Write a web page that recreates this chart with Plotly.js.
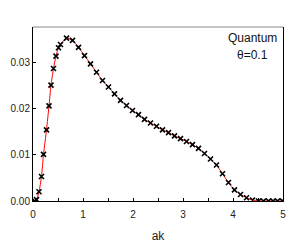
<!DOCTYPE html>
<html>
<head>
<meta charset="utf-8">
<script src="https://cdn.plot.ly/plotly-3.0.1.min.js"></script>
<style>html,body{margin:0;padding:0;background:#fff;}#chart{width:306px;height:243px;}</style>
</head>
<body>
<div id="chart"></div>
<script>
const ak = [0.03, 0.07, 0.12, 0.17, 0.21, 0.27, 0.32, 0.36, 0.41, 0.46, 0.51, 0.55, 0.67, 0.79, 0.91, 1.03, 1.15, 1.27, 1.39, 1.51, 1.63, 1.75, 1.87, 1.99, 2.11, 2.23, 2.35, 2.47, 2.59, 2.71, 2.83, 2.95, 3.07, 3.19, 3.31, 3.43, 3.55, 3.67, 3.79, 3.91, 4.03, 4.15, 4.27, 4.39, 4.51, 4.61, 4.71, 4.80, 4.89, 4.99];
const values = [0.0000, 0.0003, 0.0020, 0.0053, 0.0101, 0.0154, 0.0206, 0.0251, 0.0287, 0.0314, 0.0332, 0.0339, 0.0353, 0.0348, 0.0333, 0.0315, 0.0297, 0.0279, 0.0261, 0.0247, 0.0232, 0.0218, 0.0207, 0.0196, 0.0187, 0.0177, 0.0169, 0.0162, 0.0154, 0.0148, 0.0141, 0.0135, 0.0129, 0.0122, 0.0114, 0.0103, 0.0091, 0.0078, 0.0059, 0.0040, 0.0024, 0.0014, 0.0007, 0.0002, 0.0000, 0.0000, 0.0000, 0.0000, 0.0000, 0.0000];
const xTicks = [0, 1, 2, 3, 4, 5];
const yTicks = [0, 0.01, 0.02, 0.03];
const yTickLabels = ['0.00', '0.01', '0.02', '0.03'];
const labelLine1 = 'Quantum';
const labelLine2 = 'θ=0.1';
const xTitle = 'ak';

const font = {family: 'Liberation Sans, Arial, sans-serif', size: 10, color: '#222'};
const traces = [
  {x: ak, y: values, type: 'scatter', mode: 'lines', line: {color: '#ff0000', width: 1, shape: 'spline', smoothing: 0.6}, hoverinfo: 'skip'},
  {x: ak, y: values, type: 'scatter', mode: 'markers', marker: {symbol: 'x-thin', size: 5, color: '#000', line: {color: '#000', width: 1.6}}}
];
const layout = {
  width: 306, height: 243,
  margin: {l: 33, r: 23, t: 27, b: 42},
  showlegend: false,
  paper_bgcolor: '#fff', plot_bgcolor: '#fff',
  font: font,
  xaxis: {
    range: [0, 5], tickvals: xTicks, ticks: 'inside', ticklen: 3, tickcolor: '#000',
    showgrid: false, zeroline: false, showline: true, linecolor: '#000', linewidth: 1,
    minor: {dtick: 0.5, ticks: 'inside', ticklen: 3, tickcolor: '#000', showgrid: false},
    tickfont: font, ticklabelstandoff: 4,
    title: {text: xTitle, font: {family: font.family, size: 12, color: '#222'}, standoff: 12}
  },
  yaxis: {
    range: [0, 0.0377], tickvals: yTicks, ticktext: yTickLabels, ticks: 'inside', ticklen: 3, tickcolor: '#000',
    showgrid: false, zeroline: false, showline: true, linecolor: '#000', linewidth: 1, mirror: true,
    tickfont: font
  },
  shapes: [
    {type: 'line', xref: 'paper', yref: 'paper', x0: 0, x1: 1, y0: 1, y1: 1, line: {color: '#888', width: 1}}
  ],
  annotations: [
    {xref: 'paper', yref: 'paper', x: 0.877, y: 0.935, xanchor: 'center', yanchor: 'middle', text: labelLine1, showarrow: false,
     font: {family: font.family, size: 12, color: '#111'}},
    {xref: 'paper', yref: 'paper', x: 0.877, y: 0.837, xanchor: 'center', yanchor: 'middle', text: labelLine2, showarrow: false,
     font: {family: font.family, size: 12, color: '#111'}}
  ]
};
Plotly.newPlot('chart', traces, layout, {displayModeBar: false, staticPlot: true});
</script>
</body>
</html>
